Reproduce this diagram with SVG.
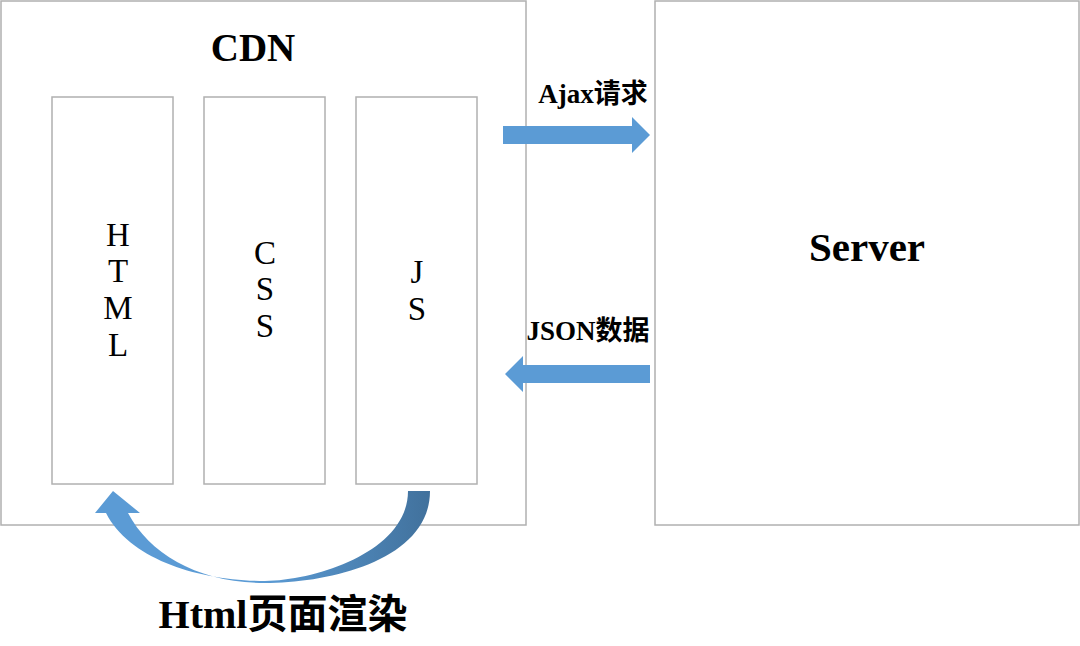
<svg xmlns="http://www.w3.org/2000/svg" width="1080" height="646" viewBox="0 0 1080 646">
<defs>
<style>
.box{fill:#fff;stroke:#b0b0b0;stroke-width:1.5}
.t{font-family:"Liberation Serif","Noto Sans CJK SC",serif;fill:#000}
.b{font-weight:bold}
.v{font-size:33px;text-anchor:middle}
</style>
<linearGradient id="g" x1="0" x2="1" y1="0" y2="0">
<stop offset="0" stop-color="#5b9bd5"/><stop offset="0.5" stop-color="#5b9bd5"/><stop offset="1" stop-color="#41719c"/>
</linearGradient>
</defs>
<rect width="1080" height="646" fill="#fff"/>
<g id="cdn"><rect class="box" x="1" y="1" width="525" height="524"/>
<text class="t b" x="253" y="61" font-size="39" text-anchor="middle">CDN</text></g>
<g id="html"><rect class="box" x="52" y="97" width="121" height="387"/>
<text class="t v" x="118" y="246">H</text><text class="t v" x="118" y="282">T</text><text class="t v" x="118" y="319">M</text><text class="t v" x="118" y="356">L</text></g>
<g id="css"><rect class="box" x="204" y="97" width="121" height="387"/>
<text class="t v" x="265" y="264">C</text><text class="t v" x="265" y="300">S</text><text class="t v" x="265" y="337">S</text></g>
<g id="js"><rect class="box" x="356" y="97" width="121" height="387"/>
<text class="t v" x="417" y="283">J</text><text class="t v" x="417" y="320">S</text></g>
<g id="server"><rect class="box" x="655" y="1" width="424" height="524"/>
<text class="t b" x="867" y="261" font-size="41" text-anchor="middle">Server</text></g>
<g id="connectors">
<path d="M503,126 H632 V117 L650,135 L632,153 V144 H503 Z" fill="#5b9bd5"/>
<text class="t b" x="593" y="103" font-size="27" text-anchor="middle">Ajax请求</text>
<path d="M650,365 H523 V356 L505,374 L523,392 V383 H650 Z" fill="#5b9bd5"/>
<text class="t b" x="588" y="340" font-size="27" text-anchor="middle">JSON数据</text>
<path d="M430,491 C430,560 330,583 265,583 C200,583 150,555 128,513 L140,513 L113,491 L95,513 L106,513 C130,560 200,581 265,581 C320,580 408,550 408,491 Z" fill="url(#g)"/>
<text class="t b" x="283" y="628" font-size="40" text-anchor="middle">Html页面渲染</text>
</g>
</svg>
